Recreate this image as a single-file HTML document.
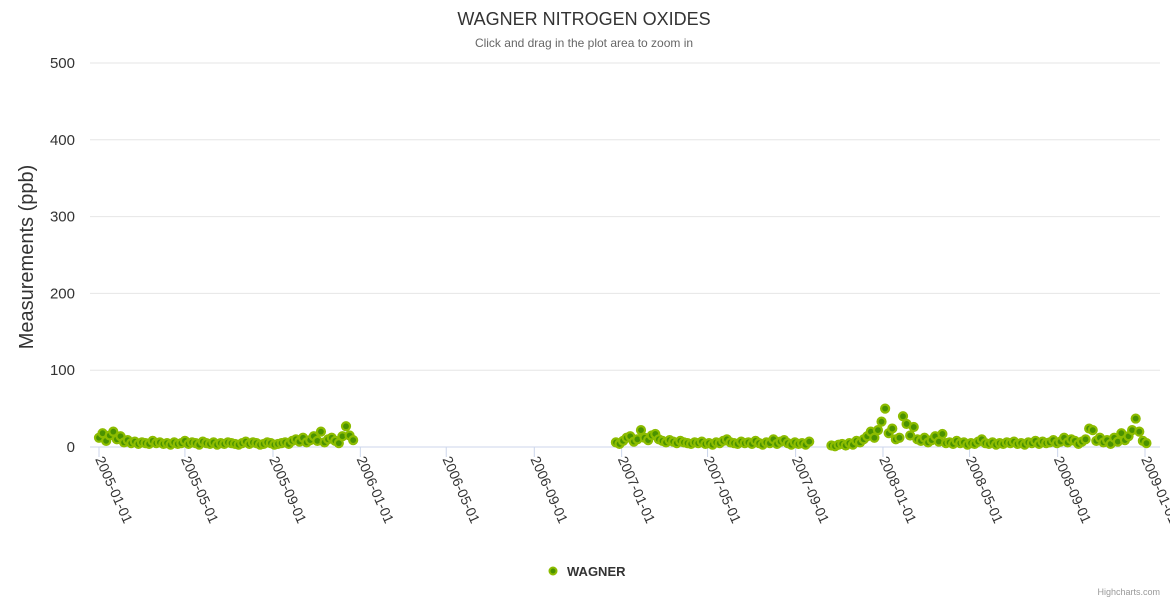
<!DOCTYPE html>
<html><head><meta charset="utf-8"><style>
html,body{margin:0;padding:0;background:#fff;}
svg{display:block;font-family:"Liberation Sans","DejaVu Sans",sans-serif;}
</style></head><body>
<svg id="chart" width="1170" height="600">
<text x="584" y="25" text-anchor="middle" font-size="18" fill="#333">WAGNER NITROGEN OXIDES</text>
<text x="584" y="47" text-anchor="middle" font-size="12" fill="#666">Click and drag in the plot area to zoom in</text>
<text transform="translate(33,257) rotate(-90)" text-anchor="middle" font-size="20" fill="#333">Measurements (ppb)</text>
<g id="grid"></g>
<g id="xaxis"></g>
<g id="points"></g>
<g>
<circle cx="553" cy="571" r="3.5" fill="#4a9200" stroke="#8cbc00" stroke-width="2"/>
<text x="567" y="576" font-size="13" font-weight="bold" fill="#333">WAGNER</text>
</g>
<text x="1160" y="595" text-anchor="end" font-size="9" fill="#999">Highcharts.com</text>
</svg>
<script>
const yTicks=[0,100,200,300,400,500];
const xTickLabels=["2005-01-01","2005-05-01","2005-09-01","2006-01-01","2006-05-01","2006-09-01","2007-01-01","2007-05-01","2007-09-01","2008-01-01","2008-05-01","2008-09-01","2009-01-01"];
const seg1Start="2005-01-01";
const seg1Values=[12,18,8,15,20,10,14,6,9,5,7,4,6,5,4,8,5,6,4,5,3,6,4,5,8,4,6,5,3,7,5,4,6,3,5,4,6,5,4,3,5,7,4,6,5,3,4,6,5,3,4,5,6,4,8,10,7,12,6,9,14,8,20,6,10,12,8,5,14,27,15,9];
const seg2Start="2006-12-24";
const seg2Values=[6,4,8,12,14,7,10,22,12,9,15,17,10,8,6,9,7,5,8,6,5,4,6,5,7,4,5,3,6,5,8,10,6,5,4,7,5,6,4,8,5,3,6,5,10,4,7,9,5,3,6,4,5,3,7];
const seg3Start="2007-10-21";
const seg3Values=[2,1,3,4,2,5,3,8,6,10,14,20,12,22,33,50,18,24,10,12,40,30,15,26,10,8,12,6,9,14,7,17,5,6,4,8,5,6,3,5,4,7,10,5,4,6,3,5,4,6,5,7,4,5,3,6,5,8,4,7,5,6,9,5,7,12,6,10,8,4,7,10,24,22,8,12,6,9,4,12,7,18,9,14,22,37,20,8,5];
const stepDays=5;

const NS="http://www.w3.org/2000/svg";
const t0=Date.UTC(2005,0,1), t1=Date.UTC(2009,0,1);
const X0=99,X1=1145,Y0=447,Y1=63,PL=90,PR=1160;
function xScale(ms){return X0+(ms-t0)/(t1-t0)*(X1-X0);}
function yScale(v){return Y0-(v/500)*(Y0-Y1);}
function parse(s){const p=s.split('-');return Date.UTC(+p[0],+p[1]-1,+p[2]);}
function mk(tag,attrs,parent){const e=document.createElementNS(NS,tag);for(const k in attrs)e.setAttribute(k,attrs[k]);parent.appendChild(e);return e;}

const grid=document.getElementById('grid');
yTicks.forEach(v=>{
  const y=yScale(v);
  const l=mk('line',{x1:PL,x2:PR,y1:y,y2:y,stroke:v===0?'#ccd6eb':'#e6e6e6','stroke-width':1},grid);
  
  
  const t=mk('text',{x:75,y:y+5,'text-anchor':'end','font-size':15,fill:'#333'},grid);
  t.textContent=v;
  
  
});
const xa=document.getElementById('xaxis');
xTickLabels.forEach(s=>{
  const x=xScale(parse(s));
  const l=mk('line',{x1:x,x2:x,y1:Y0,y2:Y0+10,stroke:'#ccd6eb'},xa);
  
  
  const t=mk('text',{transform:`translate(${x-4},${Y0+12}) rotate(66)`,'font-size':14,fill:'#333'},xa);
  t.textContent=s;
  
  
});
const pts=document.getElementById('points');
[[seg1Start,seg1Values],[seg2Start,seg2Values],[seg3Start,seg3Values]].forEach(([st,vals])=>{
  const s=parse(st);
  vals.forEach((v,i)=>{
    const c=mk('circle',{cx:xScale(s+i*stepDays*86400000),cy:yScale(v),r:4,fill:'#4a9200',stroke:'#8cbc00','stroke-width':2.2},pts);
    
    
  });
});
</script>
</body></html>
